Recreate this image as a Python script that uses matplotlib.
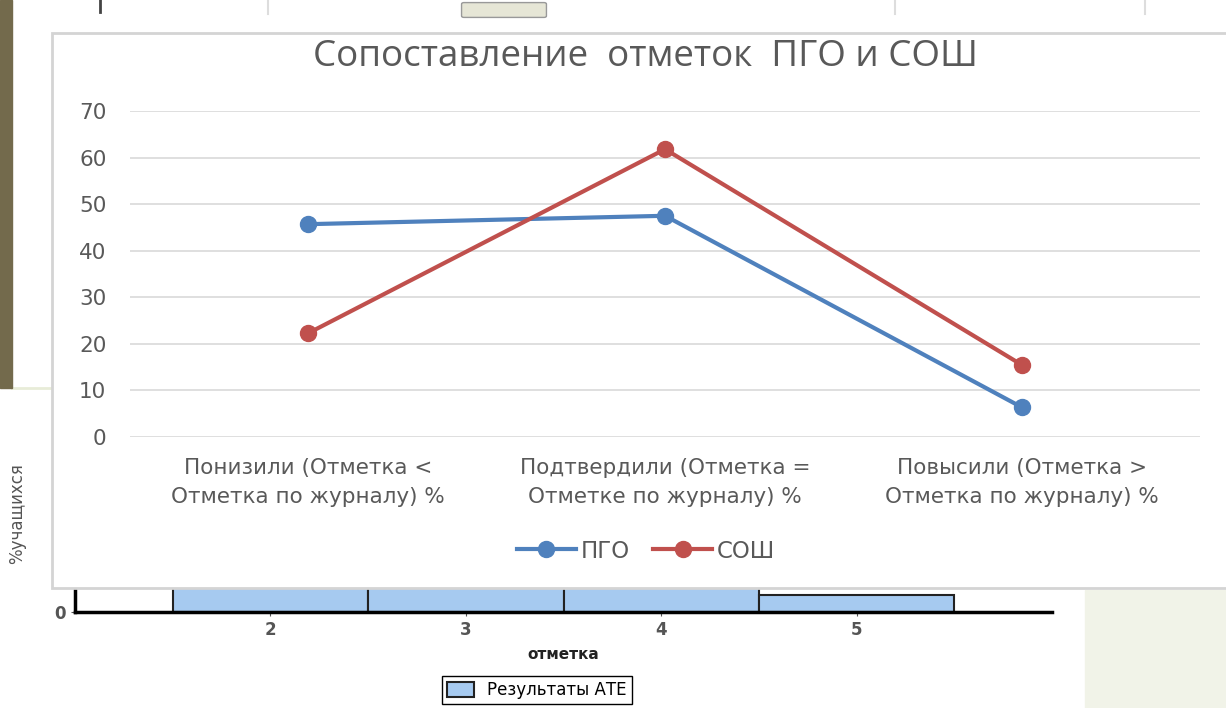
import matplotlib.pyplot as plt
from matplotlib.patches import Rectangle, FancyBboxPatch
from matplotlib.lines import Line2D

# main chart data
categories = ["Понизили (Отметка <\nОтметка по журналу) %",
              "Подтвердили (Отметка =\nОтметке по журналу) %",
              "Повысили (Отметка >\nОтметка по журналу) %"]
pgo = [45.7, 47.5, 6.4]
sosh = [22.3, 61.8, 15.5]
y_ticks = [0, 10, 20, 30, 40, 50, 60, 70]

# background slide chart (mostly hidden behind the main chart)
bg_marks = [2, 3, 4, 5]
bg_values = [3.0, 3.0, 3.0, 0.42]
bg_yticks = [0, 1, 2, 3, 4]

W, H = 1226, 708
fig = plt.figure(figsize=(W / 100, H / 100), dpi=100)
fig.patch.set_facecolor("white")

def fx(px):
    return px / W

def fy(py):
    return 1 - py / H

# slide decoration
fig.patches.append(Rectangle((0, fy(388)), fx(12), fy(0) - fy(388),
                             transform=fig.transFigure, color="#736a4c", zorder=0))
fig.lines.append(Line2D([fx(12), fx(52)], [fy(388), fy(388)], transform=fig.transFigure,
                        color="#e8ecd8", linewidth=2, zorder=0))
fig.patches.append(Rectangle((fx(1085), 0), 1 - fx(1085), fy(590),
                             transform=fig.transFigure, color="#f1f3e8", zorder=0))
fig.lines.append(Line2D([fx(100), fx(100)], [fy(0), fy(12)], transform=fig.transFigure,
                        color="#444444", linewidth=2, zorder=0))
for xl in [268, 895, 1145]:
    fig.lines.append(Line2D([fx(xl), fx(xl)], [fy(0), fy(14)], transform=fig.transFigure,
                            color="#dddddd", linewidth=1.5, zorder=0))
fig.patches.append(FancyBboxPatch((fx(464), fy(16)), fx(80), fy(4) - fy(16),
                                  boxstyle="round,pad=0.002", transform=fig.transFigure,
                                  facecolor="#e6e6d6", edgecolor="#999999", zorder=0))

# background histogram
bg = fig.add_axes([fx(75), fy(612), fx(1052) - fx(75), fy(207) - fy(612)], zorder=0)
bg.bar(bg_marks, bg_values, width=1.0, color="#a6caf0", edgecolor="#222222", linewidth=1.5)
bg.set_xlim(1, 6)
bg.set_ylim(0, 10)
bg.set_xticks(bg_marks)
bg.set_yticks(bg_yticks)
bg.tick_params(labelsize=12, colors="#555555", length=3)
for lab in bg.get_xticklabels() + bg.get_yticklabels():
    lab.set_fontweight("bold")
for s in ["top", "right"]:
    bg.spines[s].set_visible(False)
bg.spines["bottom"].set_linewidth(2.5)
bg.spines["left"].set_linewidth(2.5)
bg.set_xlabel("отметка", fontsize=11, fontweight="bold", color="#222222", labelpad=6)
bg.set_ylabel("%учащихся", fontsize=12, color="#555555")
bg.yaxis.set_label_coords(-0.050, 0.244)
bg.legend(["Результаты АТЕ"], loc="upper center", bbox_to_anchor=(0.473, -0.158),
          fancybox=False, edgecolor="black", fontsize=12, handlelength=1.6,
          handleheight=1.0, borderpad=0.3, borderaxespad=0, framealpha=1)

# white panel of the main chart
fig.patches.append(Rectangle((fx(52), fy(588)), 1.2, fy(33) - fy(588),
                             transform=fig.transFigure, facecolor="white",
                             edgecolor="#d4d4d4", linewidth=2, zorder=1))

plt.rcParams["font.family"] = ["DejaVu Sans"]

ax = fig.add_axes([fx(130), fy(437), fx(1200) - fx(130), fy(111) - fy(437)], zorder=2)
ax.set_facecolor("none")
x = range(len(categories))
ax.plot(x, pgo, color="#4f81bd", linewidth=3, marker="o", markersize=11.5, label="ПГО")
ax.plot(x, sosh, color="#c0504d", linewidth=3, marker="o", markersize=11.5, label="СОШ")
ax.set_xlim(-0.5, 2.5)
ax.set_ylim(0, 70)
ax.set_yticks(y_ticks)
ax.set_xticks(list(x))
ax.set_xticklabels(categories, fontsize=15.5, color="#595959", linespacing=1.55)
ax.tick_params(axis="y", labelsize=15.5, labelcolor="#595959", length=0, pad=17)
ax.tick_params(axis="x", length=0, pad=15)
ax.grid(axis="y", color="#d9d9d9", linewidth=1.2)
ax.set_axisbelow(True)
for s in ax.spines.values():
    s.set_visible(False)

fig.text(fx(645), fy(57), "Сопоставление  отметок  ПГО и СОШ", ha="center", va="center",
         fontsize=26.5, color="#595959", family="Open Sans", zorder=3)

ax.legend(loc="center", bbox_to_anchor=(fx(646), fy(551)), bbox_transform=fig.transFigure,
          ncol=2, frameon=False, fontsize=16.5, labelcolor="#595959",
          handlelength=2.6, columnspacing=1.0, handletextpad=0.2)

fig.savefig("out.png", dpi=100)
